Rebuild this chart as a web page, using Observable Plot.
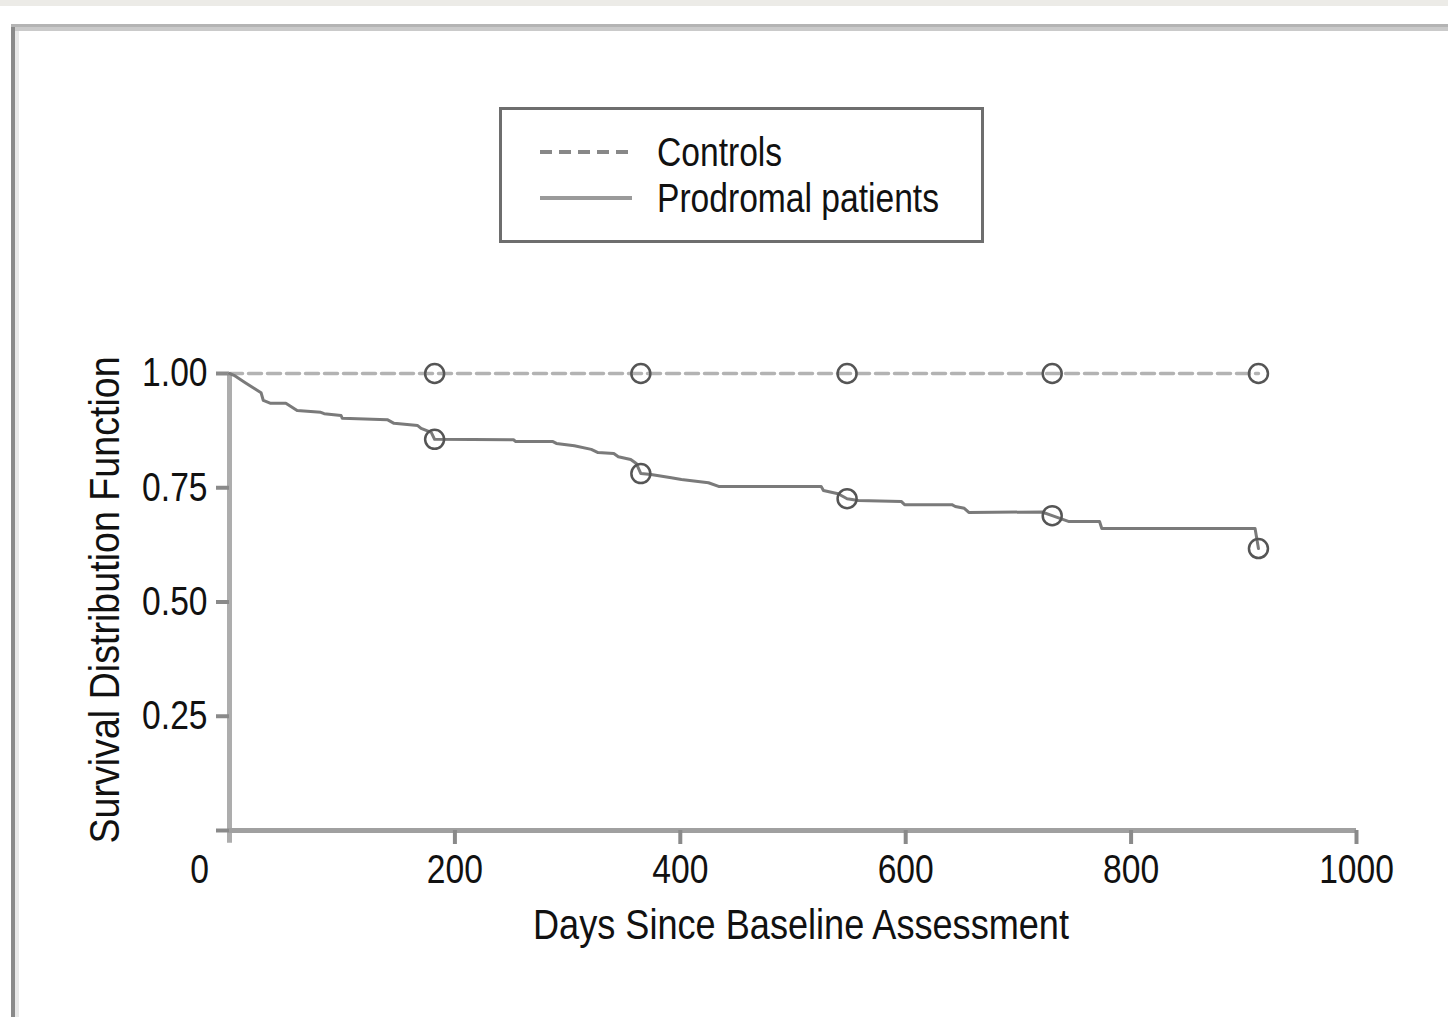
<!DOCTYPE html>
<html>
<head>
<meta charset="utf-8">
<script src="https://cdn.jsdelivr.net/npm/d3@7"></script>
<script src="https://cdn.jsdelivr.net/npm/@observablehq/plot@0.6"></script>
<style>
  html, body { margin: 0; padding: 0; background: #fff; width: 1448px; height: 1017px; overflow: hidden; }
  body { position: relative; font-family: "Liberation Sans", Arial, sans-serif; }
  #chart { position: absolute; left: 0; top: 0; }
  .strip { position: absolute; left: 0; top: 0; width: 1448px; height: 6px; background: #ecebe7; }
  .frameTop1 { position: absolute; left: 11px; top: 24px; width: 1437px; height: 3px; background: #b4b4b4; }
  .frameTop2 { position: absolute; left: 15px; top: 27px; width: 1433px; height: 4px; background: #cacaca; }
  .frameLeft1 { position: absolute; left: 11px; top: 27px; width: 4px; height: 990px; background: #8a8a8a; }
  .frameLeft2 { position: absolute; left: 15px; top: 31px; width: 4px; height: 986px; background: #e8e8e8; }
  #legend { position: absolute; left: 499px; top: 107px; }
</style>
</head>
<body>
<div id="chart"></div>
<div class="strip"></div>
<div class="frameTop1"></div>
<div class="frameTop2"></div>
<div class="frameLeft1"></div>
<div class="frameLeft2"></div>
<div id="legend"></div>
<script>
// ---- data ----
const seriesNames = ["Controls", "Prodromal patients"];

const controlsDays = [0, 913];
const controlsSurv = [1.0, 1.0];

const prodromalDays = [0, 4, 14, 21, 28, 30, 36, 50, 60, 81, 84, 99, 100, 140, 146, 167, 170, 179, 182,
  252, 254, 287, 290, 306, 321, 327, 341, 345, 356, 361, 365, 374, 392, 401, 425, 434,
  525, 527, 540, 548, 558, 596, 599, 641, 644, 652, 656, 721, 730, 745, 772, 774, 910, 913];
const prodromalSurv = [1.000, 0.996, 0.980, 0.969, 0.958, 0.941, 0.935, 0.935, 0.919, 0.915, 0.912, 0.908, 0.902, 0.899, 0.891, 0.886, 0.880, 0.871, 0.856,
  0.855, 0.851, 0.851, 0.847, 0.842, 0.834, 0.827, 0.825, 0.818, 0.812, 0.803, 0.781, 0.779, 0.772, 0.768, 0.761, 0.753,
  0.753, 0.744, 0.737, 0.726, 0.722, 0.720, 0.713, 0.713, 0.709, 0.705, 0.696, 0.697, 0.689, 0.676, 0.676, 0.661, 0.661, 0.617];

const markerDays = [182, 365, 548, 730, 913];
const controlsMarkers = [1.0, 1.0, 1.0, 1.0, 1.0];
const prodromalMarkers = [0.856, 0.781, 0.726, 0.689, 0.617];

const xTicks = [200, 400, 600, 800, 1000];
const yTicks = [0, 0.25, 0.5, 0.75, 1.0];
const xTitle = "Days Since Baseline Assessment";
const yTitle = "Survival Distribution Function";

// ---- tables ----
const controls = controlsDays.map((d, i) => ({day: d, s: controlsSurv[i]}));
const prodromal = prodromalDays.map((d, i) => ({day: d, s: prodromalSurv[i]}));
const markers = markerDays.flatMap((d, i) => [
  {day: d, s: controlsMarkers[i]},
  {day: d, s: prodromalMarkers[i]}
]);

const FONT = '"Liberation Sans", Arial, sans-serif';
const NARROW = 0.84; // emulate a narrow face
const NARROW_BY_TEXT = {[xTitle]: 0.84, [yTitle]: 0.875};

const chart = Plot.plot({
  width: 1448,
  height: 1017,
  marginLeft: 229,
  marginRight: 92,
  marginTop: 373,
  marginBottom: 187,
  style: {fontFamily: FONT, fontSize: "40px", background: "transparent", color: "#111"},
  x: {domain: [0, 1000]},
  y: {domain: [0, 1]},
  marks: [
    // axis lines
    Plot.ruleX([0], {y1: -0.028, y2: 1.0, stroke: "#adadad", strokeWidth: 5}),
    Plot.ruleY([0], {x1: 0, x2: 1000, stroke: "#a0a0a0", strokeWidth: 5}),
    Plot.axisY({ticks: yTicks, tickSize: 13, tickPadding: 9, stroke: "#8a8a8a", strokeWidth: 4, fill: "#111",
      tickFormat: d => d === 0 ? "" : d3.format(".2f")(d), label: null, fontSize: 40}),
    Plot.axisX({ticks: xTicks, tickSize: 14, tickPadding: 10, stroke: "#8a8a8a", strokeWidth: 4, fill: "#111",
      tickFormat: d => String(d), label: null, fontSize: 40}),
    Plot.text([0], {x: d => d, y: 0, text: d => String(d), dx: -30, dy: 40, fontSize: 40, fill: "#111"}),
    Plot.text([xTitle], {frameAnchor: "bottom", lineAnchor: "middle", textAnchor: "middle", dx: 8, dy: 95, fontSize: 43, fill: "#111"}),
    Plot.text([yTitle], {frameAnchor: "left", rotate: -90, textAnchor: "middle", lineAnchor: "middle", dx: -124, dy: -2, fontSize: 43, fill: "#111"}),
    // series
    Plot.line(controls, {x: "day", y: "s", stroke: "#b3b3b3", strokeWidth: 3.5, strokeDasharray: "13,6"}),
    Plot.line(prodromal, {x: "day", y: "s", stroke: "#7a7a7a", strokeWidth: 3}),
    Plot.dot(markers, {x: "day", y: "s", r: 9.5, stroke: "#555", strokeWidth: 2.5, fill: "none"})
  ]
});
document.getElementById("chart").appendChild(chart);

// ---- legend (inline svg) ----
const lg = d3.select("#legend").append("svg").attr("width", 600).attr("height", 137);
lg.append("rect").attr("x", 1.5).attr("y", 1.5).attr("width", 482).attr("height", 133)
  .attr("fill", "#fff").attr("stroke", "#6e6e6e").attr("stroke-width", 3);
const rows = [
  {name: seriesNames[0], dash: "12,7", color: "#888", y: 45},
  {name: seriesNames[1], dash: null, color: "#9a9a9a", y: 91}
];
rows.forEach(r => {
  const ln = lg.append("line").attr("x1", 41).attr("x2", 133).attr("y1", r.y).attr("y2", r.y)
    .attr("stroke", r.color).attr("stroke-width", 4);
  if (r.dash) ln.attr("stroke-dasharray", r.dash);
  lg.append("text").attr("x", 158).attr("y", r.y).attr("dy", "0.35em")
    .attr("font-family", FONT).attr("font-size", 40).attr("fill", "#111").text(r.name);
});

// narrow all text glyphs horizontally (no narrow face installed)
document.querySelectorAll("svg text").forEach(t => {
  const tspans = t.querySelectorAll("tspan");
  const els = tspans.length ? tspans : [t];
  els.forEach(el => {
    const L = el.getComputedTextLength();
    const f = NARROW_BY_TEXT[el.textContent] ?? NARROW;
    if (L > 0) {
      el.setAttribute("textLength", (L * f).toFixed(1));
      el.setAttribute("lengthAdjust", "spacingAndGlyphs");
    }
  });
});
</script>
</body>
</html>
